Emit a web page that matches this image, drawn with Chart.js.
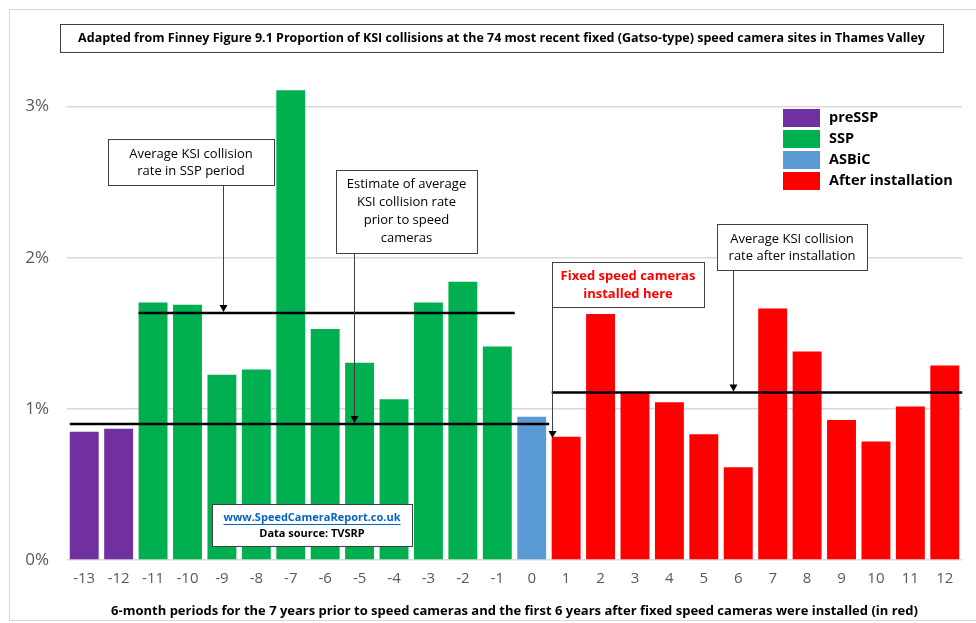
<!DOCTYPE html>
<html>
<head>
<meta charset="utf-8">
<script src="https://cdn.jsdelivr.net/npm/chart.js@4"></script>
<style>
  html, body { margin: 0; padding: 0; background: #fff; }
  #wrap { width: 976px; height: 623px; }
</style>
</head>
<body>
<div id="wrap"><canvas id="myBarChart" width="976" height="623"></canvas></div>
<script>
// 6-month periods relative to camera installation
const periods = ['-13','-12','-11','-10','-9','-8','-7','-6','-5','-4','-3','-2','-1','0','1','2','3','4','5','6','7','8','9','10','11','12'];
// proportion of KSI collisions (%)
const rates = [0.848, 0.868, 1.704, 1.689, 1.225, 1.260, 3.108, 1.528, 1.305, 1.064, 1.704, 1.841, 1.413, 0.947,
               0.815, 1.627, 1.104, 1.044, 0.832, 0.614, 1.664, 1.379, 0.927, 0.784, 1.015, 1.287];
const periodGroup = ['preSSP','preSSP','SSP','SSP','SSP','SSP','SSP','SSP','SSP','SSP','SSP','SSP','SSP','ASBiC',
               'After installation','After installation','After installation','After installation','After installation','After installation',
               'After installation','After installation','After installation','After installation','After installation','After installation'];
const groupNames = ['preSSP', 'SSP', 'ASBiC', 'After installation'];
const groupColors = ['#7030A0', '#00B050', '#5B9BD5', '#FF0000'];
const yTicks = [0, 1, 2, 3];

// average lines: [first period, last period, value]
const avgSSP = ['-11', '-1', 1.634];
const avgPrior = ['-13', '0', 0.900];
const avgAfter = ['1', '12', 1.108];

const titleText = 'Adapted from Finney Figure 9.1 Proportion of KSI collisions at the 74 most recent fixed (Gatso-type) speed camera sites in Thames Valley';
const xTitle = '6-month periods for the 7 years prior to speed cameras and the first 6 years after fixed speed cameras were installed (in red)';

const barColors = periodGroup.map(g => groupColors[groupNames.indexOf(g)]);

function fitFont(ctx, text, weight, family, size, maxW) {
  let s = size;
  ctx.font = weight + ' ' + s + 'px ' + family;
  while (ctx.measureText(text).width > maxW && s > 8) {
    s -= 0.25;
    ctx.font = weight + ' ' + s + 'px ' + family;
  }
}

function box(ctx, x, y, w, h) {
  ctx.fillStyle = '#fff';
  ctx.fillRect(x, y, w, h);
  ctx.strokeStyle = '#404040';
  ctx.lineWidth = 1;
  ctx.strokeRect(x + 0.5, y + 0.5, w, h);
}

function arrow(ctx, x, y0, y1) {
  ctx.strokeStyle = '#404040';
  ctx.lineWidth = 1;
  ctx.beginPath();
  ctx.moveTo(x + 0.5, y0);
  ctx.lineTo(x + 0.5, y1 - 6);
  ctx.stroke();
  ctx.fillStyle = '#000';
  ctx.beginPath();
  ctx.moveTo(x + 0.5 - 4, y1 - 7);
  ctx.lineTo(x + 0.5 + 4, y1 - 7);
  ctx.lineTo(x + 0.5, y1);
  ctx.closePath();
  ctx.fill();
}

const FONT = '"Open Sans", sans-serif';

const decorations = {
  id: 'decorations',
  afterDraw(chart) {
    const ctx = chart.ctx;
    const xs = chart.scales.x, ys = chart.scales.y;
    const meta = chart.getDatasetMeta(0);
    const half = meta.data[0].width / 2;
    ctx.save();

    // outer frame
    ctx.strokeStyle = '#d9d9d9';
    ctx.lineWidth = 1;
    ctx.strokeRect(9.5, 9.5, 1000, 611);

    // average lines
    ctx.strokeStyle = '#000';
    ctx.lineWidth = 2.5;
    [avgSSP, avgPrior, avgAfter].forEach(a => {
      const x0 = xs.getPixelForValue(periods.indexOf(a[0])) - half;
      const x1 = xs.getPixelForValue(periods.indexOf(a[1])) + half;
      const y = ys.getPixelForValue(a[2]);
      ctx.beginPath();
      ctx.moveTo(x0, y);
      ctx.lineTo(x1 + 3, y);
      ctx.stroke();
    });

    // title box
    box(ctx, 60, 24, 883, 28);
    ctx.fillStyle = '#000';
    ctx.textAlign = 'center';
    ctx.textBaseline = 'middle';
    fitFont(ctx, titleText, 'bold', FONT, 13, 856);
    ctx.fillText(titleText, 501.5, 38.5);

    // annotation: SSP average
    box(ctx, 108, 139, 166, 46);
    ctx.fillStyle = '#000';
    ctx.font = '13px ' + FONT;
    ctx.fillText('Average KSI collision', 191, 154);
    ctx.fillText('rate in SSP period', 191, 171);
    arrow(ctx, 223, 186, ys.getPixelForValue(avgSSP[2]) - 1);

    // annotation: prior estimate
    box(ctx, 336, 170, 141, 83);
    ctx.fillStyle = '#000';
    ctx.fillText('Estimate of average', 406.5, 184);
    ctx.fillText('KSI collision rate', 406.5, 202);
    ctx.fillText('prior to speed', 406.5, 220);
    ctx.fillText('cameras', 406.5, 238);
    arrow(ctx, 354, 254, ys.getPixelForValue(avgPrior[2]) - 1);

    // annotation: installed here
    box(ctx, 552, 262, 152, 45);
    ctx.fillStyle = '#FF0000';
    ctx.font = 'bold 13px ' + FONT;
    ctx.fillText('Fixed speed cameras', 628, 276);
    ctx.fillText('installed here', 628, 294);
    arrow(ctx, 552, 262, 438);

    // annotation: after average
    box(ctx, 717, 224, 150, 46);
    ctx.fillStyle = '#000';
    ctx.font = '13px ' + FONT;
    ctx.fillText('Average KSI collision', 792, 239);
    ctx.fillText('rate after installation', 792, 256);
    arrow(ctx, 733, 271, ys.getPixelForValue(avgAfter[2]) - 1);

    // watermark box
    box(ctx, 212, 504, 200, 42);
    ctx.fillStyle = '#0563C1';
    ctx.font = 'bold 11px ' + FONT;
    const url = 'www.SpeedCameraReport.co.uk';
    ctx.fillText(url, 312, 518);
    const uw = ctx.measureText(url).width;
    ctx.fillRect(312 - uw / 2, 524, uw, 1);
    ctx.fillStyle = '#000';
    ctx.fillText('Data source: TVSRP', 312, 534);

    // legend
    ctx.textAlign = 'left';
    ctx.font = 'bold 14.5px ' + FONT;
    groupNames.forEach((g, i) => {
      const y = 109 + i * 21;
      ctx.fillStyle = groupColors[i];
      ctx.fillRect(783, y, 37, 18);
      ctx.fillStyle = '#000';
      ctx.fillText(g, 829, y + 9);
    });

    ctx.restore();
  }
};

new Chart(document.getElementById('myBarChart').getContext('2d'), {
  type: 'bar',
  data: {
    labels: periods,
    datasets: [{
      label: 'KSI proportion',
      data: rates,
      backgroundColor: barColors,
      borderWidth: 0,
      categoryPercentage: 1,
      barPercentage: 0.84
    }]
  },
  options: {
    responsive: false,
    animation: false,
    layout: { padding: { left: 0, right: 14, top: 31, bottom: 4 } },
    plugins: {
      legend: { display: false },
      tooltip: { enabled: false }
    },
    scales: {
      x: {
        afterFit: s => { s.height = 59; },
        grid: { display: false, drawTicks: false },
        border: { display: false },
        ticks: {
          color: '#595959',
          padding: 10,
          maxRotation: 0,
          autoSkip: false,
          font: { size: 15, family: 'Open Sans' }
        },
        title: {
          display: true,
          text: xTitle,
          color: '#000',
          padding: { top: 8, bottom: 0 },
          font: { size: 13, weight: 'bold', family: 'Open Sans' }
        }
      },
      y: {
        min: 0,
        max: 3.5,
        afterBuildTicks: s => { s.ticks = yTicks.map(v => ({ value: v })); },
        afterFit: s => { s.width = 67; },
        grid: { color: '#d9d9d9', lineWidth: 1.5, drawTicks: false },
        border: { display: false },
        ticks: {
          color: '#595959',
          padding: 18,
          font: { size: 17, family: 'Open Sans' },
          callback: v => v + '%'
        }
      }
    }
  },
  plugins: [decorations]
});
</script>
</body>
</html>
